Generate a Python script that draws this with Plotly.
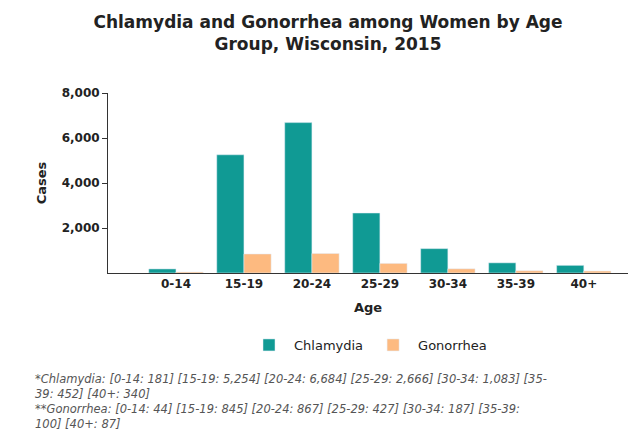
import plotly.graph_objects as go

ages = ["0-14", "15-19", "20-24", "25-29", "30-34", "35-39", "40+"]
chlamydia = [181, 5254, 6684, 2666, 1083, 452, 340]
gonorrhea = [44, 845, 867, 427, 187, 100, 87]
xs = list(range(len(ages)))

fig = go.Figure()
fig.add_bar(x=xs, y=chlamydia, name="Chlamydia", marker_color="#109a94")
fig.add_bar(x=xs, y=gonorrhea, name="Gonorrhea", marker_color="#fdba80")

font = "DejaVu Sans, Verdana, sans-serif"
fig.update_layout(
    width=640, height=439,
    barmode="group", bargap=0.2, bargroupgap=0,
    paper_bgcolor="white", plot_bgcolor="white",
    margin=dict(l=100, r=20, t=85, b=174, autoexpand=False),
    font=dict(family=font, size=12, color="#222"),
    title=dict(text="<b>Chlamydia and Gonorrhea among Women by Age<br>Group, Wisconsin, 2015</b>",
               x=0.5, xanchor="center", y=0.955, yanchor="top",
               font=dict(size=17, color="#222", family=font)),
    xaxis=dict(range=[-1, 6.65], tickvals=xs, ticktext=["<b>%s</b>" % a for a in ages],
               showline=True, linecolor="#333", ticks="", showgrid=False,
               title=dict(text="<b>Age</b>", standoff=12, font=dict(size=13))),
    yaxis=dict(range=[0, 8000], tickvals=[2000, 4000, 6000, 8000],
               ticktext=["<b>2,000</b>", "<b>4,000</b>", "<b>6,000</b>", "<b>8,000</b>"],
               showgrid=False, zeroline=False, showline=True, linecolor="#333",
               ticks="outside", ticklen=5, tickcolor="#333",
               title=dict(text="<b>Cases</b>", standoff=12, font=dict(size=13))),
    legend=dict(orientation="h", x=0.5, xanchor="center", y=-0.4, yanchor="middle",
                font=dict(size=13), itemwidth=40),
    showlegend=True,
)
fig.add_annotation(
    xref="paper", yref="paper", x=-0.144, y=-0.54, xanchor="left", yanchor="top",
    align="left", showarrow=False,
    font=dict(size=11.5, color="#555", family=font),
    text="<i>*Chlamydia: [0-14: 181] [15-19: 5,254] [20-24: 6,684] [25-29: 2,666] [30-34: 1,083] [35-<br>39: 452] [40+: 340]<br>**Gonorrhea: [0-14: 44] [15-19: 845] [20-24: 867] [25-29: 427] [30-34: 187] [35-39:<br>100] [40+: 87]</i>",
)
fig.write_html("out.html")
